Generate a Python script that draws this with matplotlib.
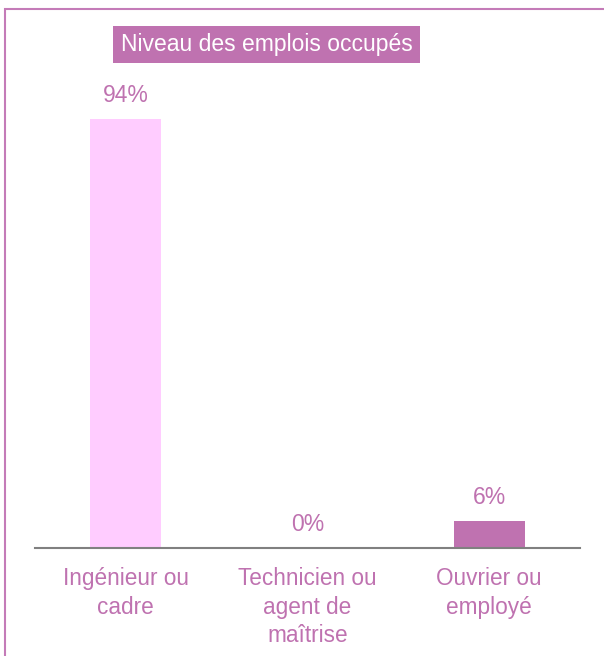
import matplotlib.pyplot as plt
from matplotlib.patches import Rectangle

plt.rcParams['font.family'] = ['Liberation Sans', 'DejaVu Sans']

categories = ["Ingénieur ou\ncadre", "Technicien ou\nagent de\nmaîtrise", "Ouvrier ou\nemployé"]
values = [94, 0, 6]
labels = ["94%", "0%", "6%"]
colors = ["#FFCCFF", "#BF72B0", "#BF72B0"]

purple = "#BF72B0"
W, H = 604, 656

fig = plt.figure(figsize=(W / 100, H / 100), dpi=100)

# cadre rose autour du graphique (bords haut et gauche visibles)
fig.patches.append(Rectangle((5 / W, -0.1), 1.2, (H - 9) / H + 0.1,
                             transform=fig.transFigure, fill=False,
                             edgecolor="#C47BB8", linewidth=1.5))

ax = fig.add_axes([35 / W, 1 - 548 / H, 545 / W, 429 / H])
x = range(len(categories))
ax.bar(x, values, width=0.39, color=colors)
for i, v in enumerate(values):
    ax.annotate(labels[i], (i, v), xytext=(0, 17), textcoords="offset points",
                ha="center", va="center", fontsize=16.5, color=purple,
                annotation_clip=False)

ax.set_xlim(-0.5, 2.5)
ax.set_ylim(0, 94)
ax.set_xticks(list(x))
ax.set_xticklabels(categories, fontsize=16.3, color=purple, linespacing=1.3)
ax.tick_params(axis="x", length=0, pad=14)
ax.set_yticks([])
for s in ["top", "right", "left"]:
    ax.spines[s].set_visible(False)
ax.spines["bottom"].set_color("#808080")
ax.spines["bottom"].set_linewidth(1.5)

fig.text(266.5 / W, 1 - 44.5 / H, "Niveau des emplois occupés", ha="center", va="center",
         fontsize=16.5, color="white",
         bbox=dict(boxstyle="square,pad=0.32", facecolor=purple, edgecolor="none"))

fig.savefig("out.png", dpi=100)
